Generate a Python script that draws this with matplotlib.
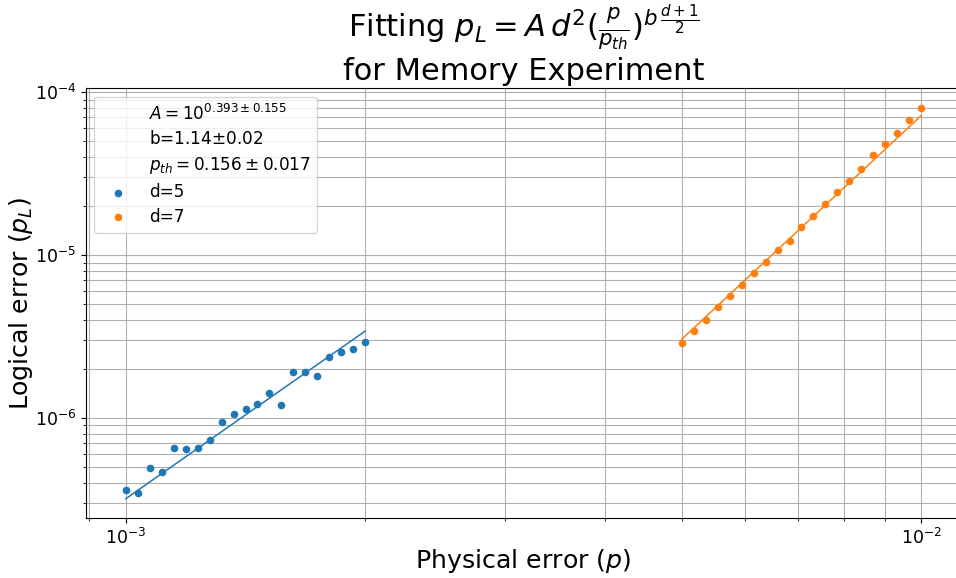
import numpy as np
import matplotlib
matplotlib.use("Agg")
import matplotlib.pyplot as plt

# ---- data ----
p_d5 = np.logspace(np.log10(1e-3), np.log10(2e-3), 21)
pl_d5 = [3.64e-7, 3.45e-7, 4.96e-7, 4.67e-7, 6.59e-7, 6.47e-7, 6.59e-7,
         7.38e-7, 9.46e-7, 1.057e-6, 1.14e-6, 1.222e-6, 1.415e-6, 1.20e-6,
         1.914e-6, 1.926e-6, 1.82e-6, 2.38e-6, 2.54e-6, 2.66e-6, 2.94e-6]

p_d7 = np.logspace(np.log10(5e-3), np.log10(1e-2), 21)
pl_d7 = [2.90e-6, 3.44e-6, 4.02e-6, 4.82e-6, 5.60e-6, 6.59e-6, 7.77e-6,
         9.06e-6, 1.069e-5, 1.222e-5, 1.496e-5, 1.73e-5, 2.07e-5, 2.45e-5,
         2.86e-5, 3.39e-5, 4.09e-5, 4.82e-5, 5.62e-5, 6.78e-5, 8.02e-5]

# fit parameters
A_log = -0.393
b_fit = 1.14
p_th = 0.156

def fit(p, d):
    return 10 ** A_log * d ** 2 * (np.asarray(p) / p_th) ** (b_fit * (d + 1) / 2)

fig = plt.figure(figsize=(9.56, 5.78), dpi=100)
ax = fig.add_axes([86 / 956, 1 - 518.3 / 578, (961 - 86) / 956, (518.3 - 88.3) / 578])

ax.plot([], [], ' ', label=r'$A=10^{0.393\pm0.155}$')
ax.plot([], [], ' ', label=r'b=1.14$\pm$0.02')
ax.plot([], [], ' ', label=r'$p_{th}=0.156\pm0.017$')

ax.scatter(p_d5, pl_d5, s=20, color='C0', label='d=5', zorder=3)
ax.plot(p_d5, fit(p_d5, 5), color='C0', lw=1.1)
ax.scatter(p_d7, pl_d7, s=20, color='C1', label='d=7', zorder=3)
ax.plot(p_d7, fit(p_d7, 7), color='C1', lw=1.1)

ax.set_xscale('log')
ax.set_yscale('log')
ax.grid(True, which='both', color='#b0b0b0', lw=0.8)
ax.tick_params(axis='both', which='major', labelsize=12.5)

ax.set_xlabel(r'Physical error ($p$)', fontsize=18.2, labelpad=-1)
ax.set_ylabel(r'Logical error ($p_L$)', fontsize=18.2, labelpad=-0.5)
ax.set_title(r'Fitting $p_L = A\,d^2(\frac{p}{p_{th}})^{b\,\frac{d+1}{2}}$' + '\nfor Memory Experiment',
             fontsize=22)
ax.legend(loc='upper left', fontsize=12.2, labelspacing=0.4)

fig.savefig('out.png', dpi=100)
